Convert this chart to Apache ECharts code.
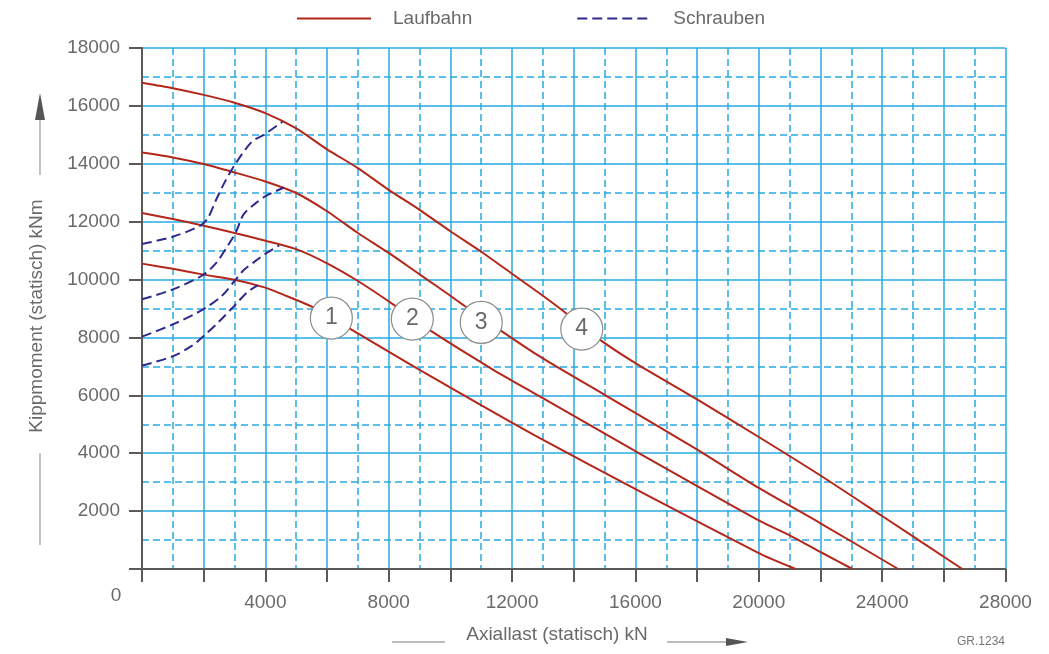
<!DOCTYPE html>
<html>
<head>
<meta charset="utf-8">
<script src="https://cdn.jsdelivr.net/npm/echarts@6/dist/echarts.min.js"></script>
<style>
  html, body { margin: 0; padding: 0; background: #ffffff; }
  #chart { width: 1049px; height: 654px; }
</style>
</head>
<body>
<div id="chart"></div>
<script>
// Raceway (Laufbahn) limit curves 1-4: [axial load kN, tilting moment kNm]
const laufbahn1 = [[0,10550],[1000,10370],[2000,10170],[3000,9990],[4000,9720],[4460,9530],[5490,9070],[6790,8270],[8950,6910],[12900,4520],[20000,550],[21200,0]];
const laufbahn2 = [[0,12300],[1000,12090],[2000,11860],[3000,11610],[4000,11340],[5000,11050],[6000,10560],[7000,9950],[8190,9110],[9330,8250],[11380,6890],[12900,5960],[15870,4150],[20000,1680],[21060,1130],[22030,570],[23040,0]];
const laufbahn3 = [[0,14390],[1000,14220],[2000,13990],[3000,13700],[4000,13390],[5000,12990],[6000,12360],[7000,11610],[8000,10920],[9000,10180],[10000,9440],[10500,9060],[12870,7360],[15030,6000],[17950,4160],[20000,2800],[22000,1580],[24520,0]];
const laufbahn4 = [[0,16800],[1000,16610],[2000,16380],[3000,16110],[4000,15750],[5000,15220],[6000,14500],[7000,13850],[8000,13100],[9000,12410],[10000,11670],[11000,10960],[12000,10200],[13000,9440],[13650,8920],[14900,7880],[16080,7060],[18000,5860],[20000,4560],[22000,3230],[24000,1830],[26600,0]];

// Bolt (Schrauben) limit curves, each ending on its raceway curve
const schrauben1 = [[0,7030],[1000,7350],[1600,7700],[2000,8050],[2500,8550],[3000,9100],[3400,9550],[3750,9800]];
const schrauben2 = [[0,8030],[1000,8450],[2000,8980],[2600,9450],[3000,9950],[3300,10330],[3650,10620],[4000,10890],[4450,11180]];
const schrauben3 = [[0,9320],[1000,9660],[1950,10140],[2400,10570],[2800,11200],[3050,11650],[3300,12260],[3690,12640],[4020,12890],[4600,13180]];
const schrauben4 = [[0,11230],[1000,11480],[1900,11870],[2150,12150],[2400,12750],[2700,13400],[3000,13950],[3550,14750],[3950,15000],[4550,15450]];

// Curve number badges
const markerLabels = ['1', '2', '3', '4'];
const markerX = [6140, 8765, 11000, 14260];
const markerY = [8670, 8635, 8520, 8290];

// Tick labels
const xLabels = [4000, 8000, 12000, 16000, 20000, 24000, 28000];
const yLabels = [2000, 4000, 6000, 8000, 10000, 12000, 14000, 16000, 18000];

const RED = '#b3271a';
const NAVY = '#2e2a8c';
const GRID = '#29abe2';
const AXIS = '#5a5a5a';
const TEXT = '#6a6a6a';
const FONT = '"Liberation Sans", Arial, sans-serif';

const chart = echarts.init(document.getElementById('chart'));

function raceway(data) {
  return {
    type: 'line', name: 'Laufbahn', data: data,
    symbol: 'none', smooth: 0.25,
    lineStyle: { color: RED, width: 2 }, itemStyle: { color: RED },
    z: 3, silent: true
  };
}
function bolt(data) {
  return {
    type: 'line', name: 'Schrauben', data: data,
    symbol: 'none', smooth: 0.3,
    lineStyle: { color: NAVY, width: 2, type: [10, 5] }, itemStyle: { color: NAVY },
    z: 4, silent: true
  };
}

const gridSplit = { show: true, lineStyle: { color: GRID, width: 1.5 } };
const gridMinor = { show: true, lineStyle: { color: GRID, width: 1.5, type: [7, 4] } };

chart.setOption({
  animation: false,
  backgroundColor: '#ffffff',
  grid: { left: 142, right: 43.5, top: 48, bottom: 85, containLabel: false },
  legend: {
    data: ['Laufbahn', 'Schrauben'],
    left: 291, top: 4,
    itemWidth: 74, itemHeight: 14, itemGap: 104,
    selectedMode: false,
    itemStyle: { opacity: 0 },
    textStyle: { color: TEXT, fontSize: 19, fontFamily: FONT, padding: [0, 0, 0, 17] }
  },
  xAxis: {
    type: 'value', min: 0, max: 28000, interval: 2000,
    axisLine: { show: true, onZero: false, lineStyle: { color: AXIS, width: 2 } },
    axisTick: { show: true, length: 13, lineStyle: { color: AXIS, width: 2 } },
    axisLabel: {
      margin: 24, color: TEXT, fontSize: 19, fontFamily: FONT,
      formatter: v => xLabels.includes(v) ? String(v) : ''
    },
    splitLine: gridSplit,
    minorTick: { show: false, splitNumber: 2 },
    minorSplitLine: gridMinor
  },
  yAxis: {
    type: 'value', min: 0, max: 18000, interval: 2000,
    axisLine: { show: true, onZero: false, lineStyle: { color: AXIS, width: 2 } },
    axisTick: { show: true, length: 13, lineStyle: { color: AXIS, width: 2 } },
    axisLabel: {
      margin: 22, color: TEXT, fontSize: 19, fontFamily: FONT,
      formatter: v => yLabels.includes(v) ? String(v) : ''
    },
    splitLine: gridSplit,
    minorTick: { show: false, splitNumber: 2 },
    minorSplitLine: gridMinor
  },
  series: [
    raceway(laufbahn1), raceway(laufbahn2), raceway(laufbahn3), raceway(laufbahn4),
    bolt(schrauben1), bolt(schrauben2), bolt(schrauben3), bolt(schrauben4),
    {
      type: 'scatter', name: 'Kurve', z: 6, silent: true,
      symbol: 'circle', symbolSize: 42,
      itemStyle: { color: '#ffffff', borderColor: '#8c8c8c', borderWidth: 1.2, opacity: 1 },
      label: {
        show: true, position: 'inside', color: TEXT, fontSize: 23, fontFamily: FONT,
        formatter: p => p.name
      },
      data: markerLabels.map((n, i) => ({ name: n, value: [markerX[i], markerY[i]] }))
    }
  ],
  graphic: [
    // origin label
    { type: 'text', x: 116, y: 596, silent: true,
      style: { text: '0', fill: TEXT, font: '19px ' + FONT, align: 'center', verticalAlign: 'middle' } },
    // vertical axis title with arrow
    { type: 'text', x: 37, y: 316, rotation: Math.PI / 2, silent: true,
      style: { text: 'Kippmoment (statisch) kNm', fill: TEXT, font: '19px ' + FONT, align: 'center', verticalAlign: 'middle' } },
    { type: 'line', silent: true, shape: { x1: 40, y1: 118, x2: 40, y2: 175 }, style: { stroke: '#9a9a9a', lineWidth: 1.2 } },
    { type: 'polygon', silent: true, shape: { points: [[35, 120], [45, 120], [40, 93]] }, style: { fill: '#555555' } },
    { type: 'line', silent: true, shape: { x1: 40, y1: 453, x2: 40, y2: 545 }, style: { stroke: '#9a9a9a', lineWidth: 1.2 } },
    // horizontal axis title with arrow
    { type: 'text', x: 557, y: 635, silent: true,
      style: { text: 'Axiallast (statisch) kN', fill: TEXT, font: '19px ' + FONT, align: 'center', verticalAlign: 'middle' } },
    { type: 'line', silent: true, shape: { x1: 392, y1: 642, x2: 445, y2: 642 }, style: { stroke: '#7a7a7a', lineWidth: 1 } },
    { type: 'line', silent: true, shape: { x1: 667, y1: 642, x2: 730, y2: 642 }, style: { stroke: '#7a7a7a', lineWidth: 1 } },
    { type: 'polygon', silent: true, shape: { points: [[726, 638], [726, 646], [748, 642]] }, style: { fill: '#555555' } },
    // drawing reference
    { type: 'text', x: 1005, y: 642, silent: true,
      style: { text: 'GR.1234', fill: '#777777', font: '12px ' + FONT, align: 'right', verticalAlign: 'middle' } }
  ]
});
</script>
</body>
</html>
